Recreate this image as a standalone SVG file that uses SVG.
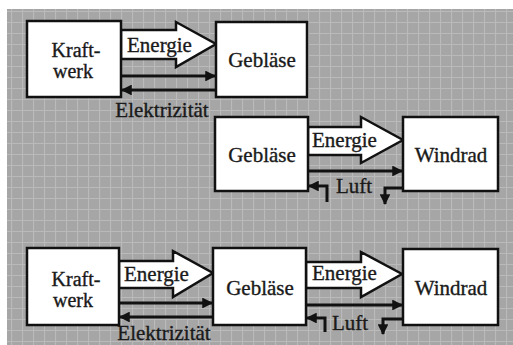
<svg xmlns="http://www.w3.org/2000/svg" width="513" height="345" viewBox="0 0 513 345">
<style>
.box{fill:#fff;stroke:#111;stroke-width:2.5}
.big{fill:#fff;stroke:#111;stroke-width:2.5;stroke-linejoin:miter}
.ln{fill:none;stroke:#111;stroke-width:3}
.t{font-family:'Liberation Serif','DejaVu Serif',serif;font-size:21px;fill:#1a1a1a;stroke:#1a1a1a;stroke-width:0.35}
.s{font-size:20px}
.c{text-anchor:middle}
</style>
<defs>
<marker id="ah" viewBox="0 0 10 10" refX="9" refY="5" markerWidth="4" markerHeight="3.6" orient="auto" markerUnits="strokeWidth">
<path d="M0,0 L10,5 L0,10 z" fill="#111"/>
</marker>
<pattern id="grid" width="11" height="11" patternUnits="userSpaceOnUse">
<rect width="11" height="11" fill="#a6a6a6"/>
<path d="M0,0.5 H11 M0.5,0 V11" stroke="#bababa" stroke-width="1.2"/>
</pattern>
</defs>
<rect x="0" y="0" width="513" height="345" fill="#fff"/>
<rect x="7" y="9" width="506" height="336" fill="url(#grid)"/>

<g id="connectors">
<polygon class="big" points="121,30 176,30 176,22 216,44 176,67 176,59 121,59"/>
<line class="ln" x1="121" y1="76" x2="215" y2="76" marker-end="url(#ah)"/>
<line class="ln" x1="216" y1="90" x2="122" y2="90" marker-end="url(#ah)"/>
<polygon class="big" points="308,127 361,127 361,117 403,140 361,163 361,155 308,155"/>
<line class="ln" x1="308" y1="171" x2="402" y2="171" marker-end="url(#ah)"/>
<polyline class="ln" points="327,202 327,186 309,186" marker-end="url(#ah)"/>
<polyline class="ln" points="403,188 385,188 385,204" marker-end="url(#ah)"/>
<polygon class="big" points="119,261 173,261 173,251 213,273 173,297 173,288 119,288"/>
<line class="ln" x1="119" y1="303" x2="212" y2="303" marker-end="url(#ah)"/>
<line class="ln" x1="213" y1="317" x2="120" y2="317" marker-end="url(#ah)"/>
<polygon class="big" points="306,262 361,262 361,252 402,274 361,297 361,288 306,288"/>
<line class="ln" x1="306" y1="305" x2="402" y2="305" marker-end="url(#ah)"/>
<polyline class="ln" points="325,332 325,318 307,318" marker-end="url(#ah)"/>
<polyline class="ln" points="403,319 383,319 383,334" marker-end="url(#ah)"/>
</g>

<g id="labels">
<text class="t" x="127" y="52">Energie</text>
<text class="t c" x="162" y="117">Elektrizität</text>
<text class="t" x="312" y="147">Energie</text>
<text class="t" x="336" y="193">Luft</text>
<text class="t" x="124" y="281">Energie</text>
<text class="t c" x="164" y="340">Elektrizität</text>
<text class="t" x="312" y="280">Energie</text>
<text class="t" x="332" y="330">Luft</text>
</g>

<g id="kraftwerk1">
<rect class="box" x="27" y="21" width="94" height="76"/>
<text class="t s c" x="76" y="57">Kraft-</text>
<text class="t s c" x="73" y="78">werk</text>
</g>
<g id="geblaese1">
<rect class="box" x="216" y="22" width="91" height="75"/>
<text class="t c" x="262" y="67">Gebläse</text>
</g>
<g id="geblaese2">
<rect class="box" x="215" y="117" width="93" height="74"/>
<text class="t c" x="262" y="162">Gebläse</text>
</g>
<g id="windrad2">
<rect class="box" x="403" y="117" width="95" height="74"/>
<text class="t c" x="451" y="162">Windrad</text>
</g>
<g id="kraftwerk3">
<rect class="box" x="27" y="248" width="92" height="77"/>
<text class="t s c" x="76" y="286">Kraft-</text>
<text class="t s c" x="73" y="307">werk</text>
</g>
<g id="geblaese3">
<rect class="box" x="213" y="248" width="93" height="77"/>
<text class="t c" x="260" y="295">Gebläse</text>
</g>
<g id="windrad3">
<rect class="box" x="403" y="249" width="95" height="76"/>
<text class="t c" x="451" y="295">Windrad</text>
</g>
</svg>
